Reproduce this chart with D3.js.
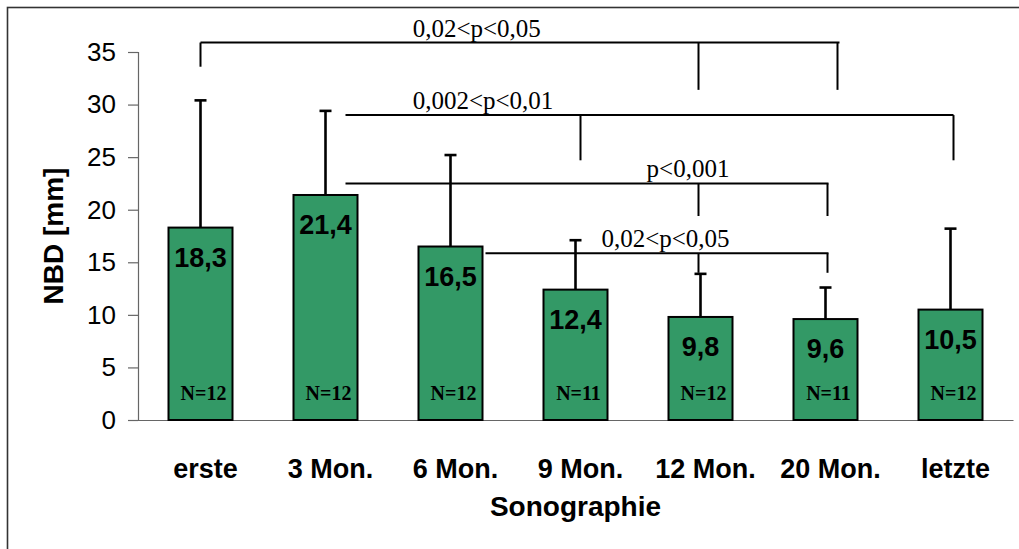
<!DOCTYPE html>
<html>
<head>
<meta charset="utf-8">
<script src="https://cdn.jsdelivr.net/npm/d3@7"></script>
<style>
  html, body { margin: 0; padding: 0; background: #fff; }
  svg { display: block; }
</style>
</head>
<body>
<svg id="chart" width="1019" height="549"></svg>
<script>
// Nasenbeindicke (NBD) über die Sonographie-Zeitpunkte
const categories = ["erste", "3 Mon.", "6 Mon.", "9 Mon.", "12 Mon.", "20 Mon.", "letzte"];
const means      = [18.3, 21.4, 16.5, 12.4, 9.8, 9.6, 10.5];
const upperSD    = [30.4, 29.4, 25.2, 17.1, 13.9, 12.6, 18.2];
const counts     = [12, 12, 12, 11, 12, 11, 12];
const yTicks     = [0, 5, 10, 15, 20, 25, 30, 35];

// Signifikanz-Klammern: Bezugsgruppen und p-Bereiche
const sigLabels  = ["0,02<p<0,05", "0,002<p<0,01", "p<0,001", "0,02<p<0,05"];
const sigFrom    = [0, 1, 1, 2];
const sigTargets = [[4, 5], [3, 6], [4, 5], [4, 5]];

const svg = d3.select("#chart");
const W = 1019, H = 549;
const plot = { left: 138, right: 1013, top: 52, bottom: 420 };

// outer frame (extends beyond the right/bottom edges)
svg.append("rect")
  .attr("x", 7.5).attr("y", 7.5)
  .attr("width", W + 20).attr("height", H + 20)
  .attr("fill", "none").attr("stroke", "#333").attr("stroke-width", 1.6);

const x = d3.scaleBand()
  .domain(categories)
  .range([plot.left, plot.right])
  .paddingInner(0.488)
  .paddingOuter(0.244);

const y = d3.scaleLinear().domain([0, 35]).range([plot.bottom, plot.top]);

const cx = i => x(categories[i]) + x.bandwidth() / 2;

// y axis
const yAxis = d3.axisLeft(y).tickValues(yTicks).tickSize(10).tickPadding(12).tickFormat(d3.format("d"));
const gy = svg.append("g").attr("transform", `translate(${plot.left},0)`).call(yAxis);
gy.select(".domain").attr("stroke", "#666").attr("stroke-width", 1.2);
gy.selectAll(".tick line").attr("stroke", "#666").attr("stroke-width", 1.2);
gy.selectAll(".tick text")
  .attr("font-family", "Liberation Sans, Arial, sans-serif")
  .attr("font-size", 26).attr("fill", "#000");

// x axis (line only, labels below)
const xAxis = d3.axisBottom(x).tickSize(0).tickPadding(0);
const gx = svg.append("g").attr("transform", `translate(0,${plot.bottom})`).call(xAxis);
gx.select(".domain").attr("stroke", "#666").attr("stroke-width", 1.2);
gx.selectAll(".tick text")
  .attr("font-family", "Liberation Sans, Arial, sans-serif")
  .attr("font-size", 27).attr("font-weight", "bold").attr("fill", "#000")
  .attr("dy", 0).attr("dx", 5)
  .attr("y", 58);

// axis titles
svg.append("text")
  .attr("x", (plot.left + plot.right) / 2).attr("y", 516)
  .attr("text-anchor", "middle")
  .attr("font-family", "Liberation Sans, Arial, sans-serif")
  .attr("font-size", 28).attr("font-weight", "bold")
  .text("Sonographie");

svg.append("text")
  .attr("transform", `translate(63,${(plot.top + plot.bottom) / 2}) rotate(-90)`)
  .attr("text-anchor", "middle")
  .attr("font-family", "Liberation Sans, Arial, sans-serif")
  .attr("font-size", 28).attr("font-weight", "bold")
  .text("NBD [mm]");

// error bars (upper whisker only)
const capHalf = 6;
const eb = svg.append("g").attr("stroke", "#000").attr("stroke-width", 2.6);
categories.forEach((c, i) => {
  eb.append("line").attr("x1", cx(i)).attr("x2", cx(i))
    .attr("y1", y(means[i])).attr("y2", y(upperSD[i]));
  eb.append("line").attr("x1", cx(i) - capHalf).attr("x2", cx(i) + capHalf)
    .attr("y1", y(upperSD[i])).attr("y2", y(upperSD[i]));
});

// bars
svg.append("g").selectAll("rect").data(means).join("rect")
  .attr("x", (d, i) => x(categories[i]))
  .attr("y", d => y(d))
  .attr("width", x.bandwidth())
  .attr("height", d => y(0) - y(d))
  .attr("fill", "#339966")
  .attr("stroke", "#000").attr("stroke-width", 2);

// mean labels
svg.append("g").selectAll("text").data(means).join("text")
  .attr("x", (d, i) => cx(i))
  .attr("y", d => y(d) + 39)
  .attr("text-anchor", "middle")
  .attr("font-family", "Liberation Sans, Arial, sans-serif")
  .attr("font-size", 27).attr("font-weight", "bold")
  .text(d => d3.format(".1f")(d).replace(".", ","));

// N labels
svg.append("g").selectAll("text").data(counts).join("text")
  .attr("x", (d, i) => cx(i) + 3)
  .attr("y", y(0) - 20)
  .attr("text-anchor", "middle")
  .attr("font-family", "Liberation Serif, 'Times New Roman', serif")
  .attr("font-size", 20).attr("font-weight", "bold")
  .text(d => "N=" + d);

// significance brackets: horizontal level, start, drop ends (data units),
// label anchor in category units
const bracketLayout = [
  { level: 35.9, startDx: 0,  startDrop: 33.6, end: 31.4, rightExtra: 2,  labelAt: 2.21, dxTargets: [-2, 12] },
  { level: 29.0, startDx: 20, startDrop: null, end: 24.7, rightExtra: 0,  labelAt: 2.26, dxTargets: [5, 3] },
  { level: 22.5, startDx: 20, startDrop: null, end: 19.4, rightExtra: 1,  labelAt: 3.90, dxTargets: [-2, 2] },
  { level: 15.85, startDx: 35, startDrop: null, end: 14.0, rightExtra: 1, labelAt: 3.72, dxTargets: [-2, 2] }
];

const bg = svg.append("g").attr("stroke", "#000").attr("stroke-width", 2).attr("fill", "none");
sigLabels.forEach((lab, k) => {
  const L = bracketLayout[k];
  const x0 = cx(sigFrom[k]) + L.startDx;
  const tx = sigTargets[k].map((t, j) => cx(t) + L.dxTargets[j]);
  const x1 = d3.max(tx) + L.rightExtra;
  const yl = y(L.level);
  bg.append("line").attr("x1", x0).attr("x2", x1).attr("y1", yl).attr("y2", yl);
  if (L.startDrop !== null) {
    bg.append("line").attr("x1", x0).attr("x2", x0).attr("y1", yl).attr("y2", y(L.startDrop));
  }
  tx.forEach(t => {
    bg.append("line").attr("x1", t).attr("x2", t).attr("y1", yl).attr("y2", y(L.end));
  });
  svg.append("text")
    .attr("x", cx(0) + L.labelAt * x.step())
    .attr("y", yl - 6)
    .attr("text-anchor", "middle")
    .attr("font-family", "Liberation Serif, 'Times New Roman', serif")
    .attr("font-size", 25)
    .text(lab);
});
</script>
</body>
</html>
